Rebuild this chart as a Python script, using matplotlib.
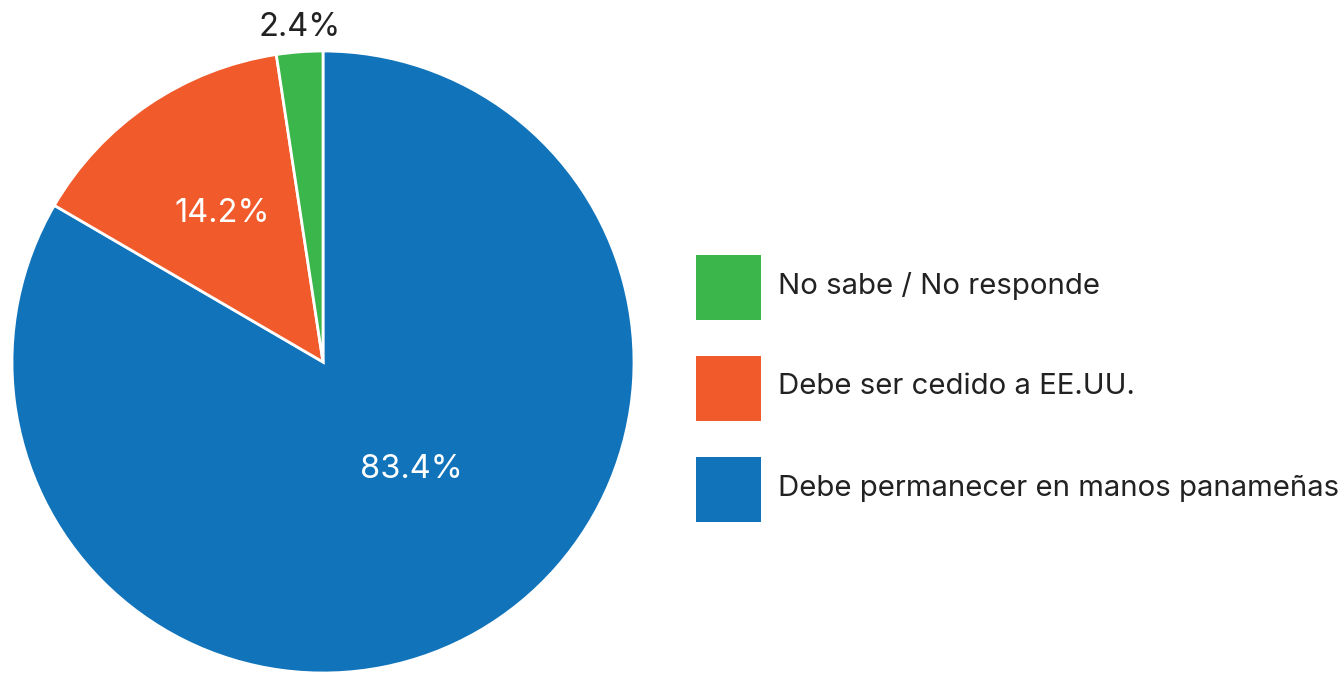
import matplotlib.pyplot as plt
from matplotlib.patches import Rectangle

plt.rcParams['font.family'] = ['Inter', 'DejaVu Sans']

labels = ["Debe permanecer en manos panameñas", "Debe ser cedido a EE.UU.", "No sabe / No responde"]
values = [83.4, 14.2, 2.4]
colors = ["#1174BB", "#F15A2B", "#3BB64B"]

W, H = 1342, 673
fig = plt.figure(figsize=(W / 100, H / 100), dpi=100)

# pie: centre (323, 362) px, radius 311 px
ax = fig.add_axes([12 / W, 0 / H, 622 / W, 622 / H])
wedges, _ = ax.pie(values, colors=colors, startangle=90, counterclock=False,
                   radius=1, wedgeprops=dict(edgecolor="white", linewidth=2))
ax.set_xlim(-1, 1)
ax.set_ylim(-1, 1)
ax.set_aspect("equal")
ax.axis("off")

# percentage labels
label_pos = [(0.283, -0.347), (-0.325, 0.479), (-0.074, 1.074)]
label_col = ["white", "white", "#222222"]
for v, (x, y), c in zip(values, label_pos, label_col):
    ax.text(x, y, f"{v}%", ha="center", va="center", fontsize=23.5, color=c, clip_on=False)

# legend drawn in pixel coordinates (top-down)
lax = fig.add_axes([0, 0, 1, 1])
lax.set_xlim(0, W)
lax.set_ylim(H, 0)
lax.axis("off")
for i, (lab, col) in enumerate(zip(labels[::-1], colors[::-1])):
    top = 255 + i * 101
    lax.add_patch(Rectangle((696, top), 65, 65, facecolor=col, edgecolor="none"))
    lax.text(778, top + 31, lab, ha="left", va="center", fontsize=21.1, color="#222222")

fig.savefig("out.png", dpi=100)
